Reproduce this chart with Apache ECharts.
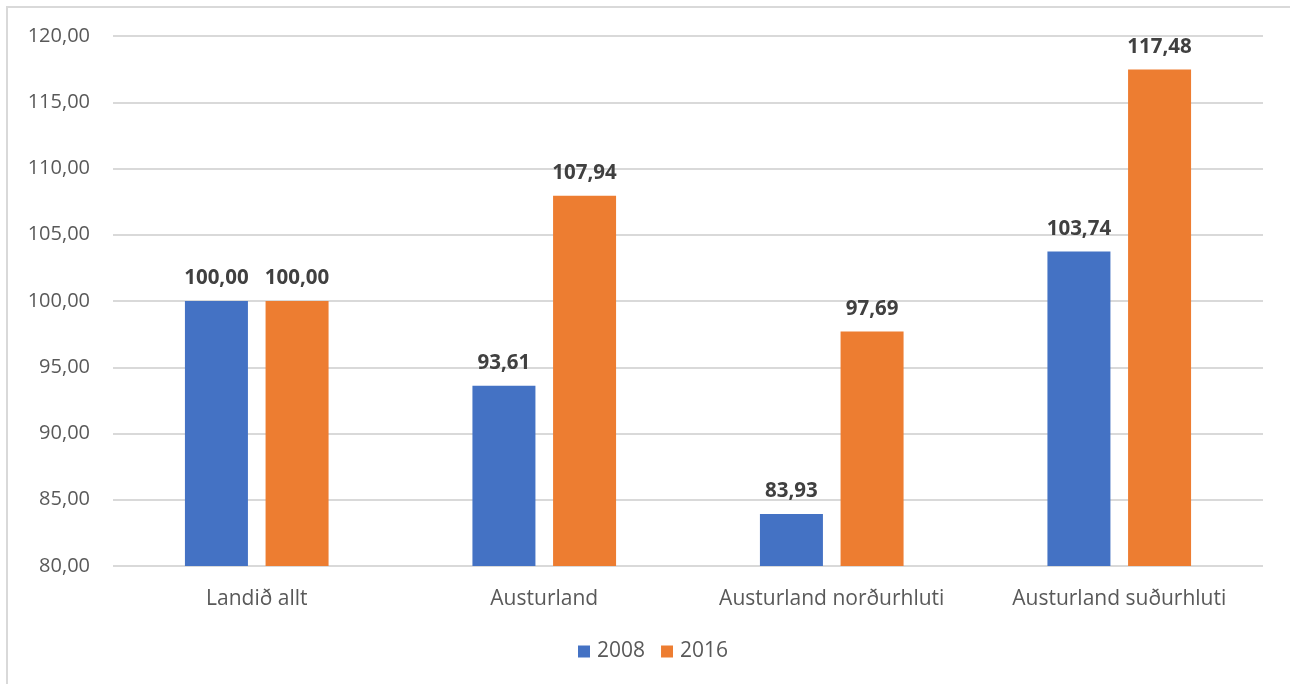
<!DOCTYPE html>
<html>
<head>
<meta charset="utf-8">
<script src="https://cdn.jsdelivr.net/npm/echarts@6/dist/echarts.min.js"></script>
<style>
html,body{margin:0;padding:0;background:#fff;}
#frame{position:absolute;left:6px;top:6px;width:1290px;height:690px;border-left:2px solid #d9d9d9;border-top:2px solid #d9d9d9;box-sizing:border-box;}
#chart{position:absolute;left:0;top:0;width:1290px;height:684px;}
</style>
</head>
<body>
<div id="frame"></div>
<div id="chart"></div>
<script>
const categories = ['Landið allt', 'Austurland', 'Austurland norðurhluti', 'Austurland suðurhluti'];
const seriesNames = ['2008', '2016'];
const values2008 = [100.00, 93.61, 83.93, 103.74];
const values2016 = [100.00, 107.94, 97.69, 117.48];
const yMin = 80, yMax = 120, yStep = 5;

const fmt = v => Number(v).toFixed(2).replace('.', ',');
const font = '"Open Sans", "Liberation Sans", sans-serif';

const chart = echarts.init(document.getElementById('chart'), null, {renderer: 'canvas'});
const labelCfg = {
  show: true, position: 'top', distance: 12,
  color: '#404040', fontWeight: 'bold', fontSize: 20.5, fontFamily: font,
  formatter: p => fmt(p.value)
};
chart.setOption({
  animation: false,
  textStyle: {fontFamily: font},
  grid: {left: 113, right: 27, top: 36, bottom: 118, containLabel: false},
  legend: {
    data: seriesNames, bottom: 17, left: 573,
    itemWidth: 12, itemHeight: 12, itemGap: 16, icon: 'rect',
    textStyle: {color: '#595959', fontSize: 21, fontFamily: font, padding: [0, 0, 0, 2]}
  },
  xAxis: {
    type: 'category', data: categories,
    axisLine: {show: false}, axisTick: {show: false},
    axisLabel: {color: '#595959', fontSize: 21, fontFamily: font, margin: 23, interval: 0, hideOverlap: false}
  },
  yAxis: {
    type: 'value', min: yMin, max: yMax, interval: yStep,
    axisLine: {show: false}, axisTick: {show: false},
    splitLine: {lineStyle: {color: '#d9d9d9', width: 2}},
    axisLabel: {color: '#595959', fontSize: 20, fontFamily: font, margin: 23, formatter: v => fmt(v)}
  },
  series: [
    {name: seriesNames[0], type: 'bar', data: values2008, barWidth: 63, barGap: '28%',
     itemStyle: {color: '#4472C4'}, label: labelCfg},
    {name: seriesNames[1], type: 'bar', data: values2016, barWidth: 63,
     itemStyle: {color: '#ED7D31'}, label: labelCfg}
  ]
});
</script>
</body>
</html>
